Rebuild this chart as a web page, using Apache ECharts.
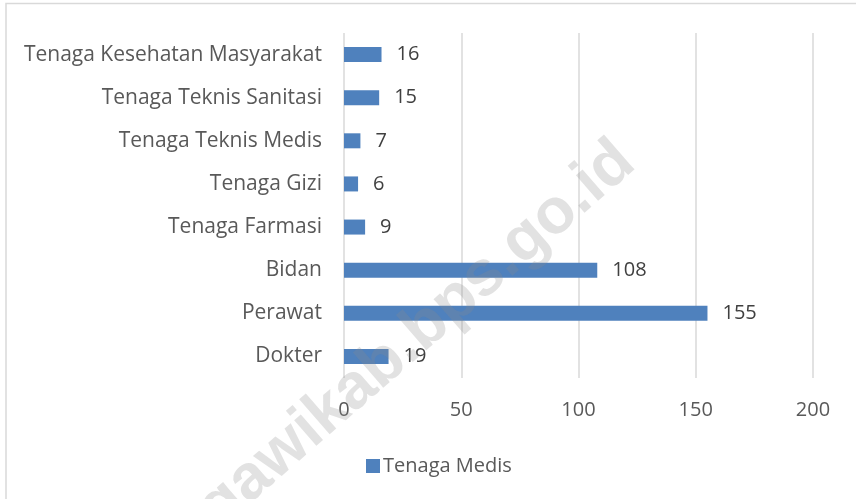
<!DOCTYPE html>
<html>
<head>
<meta charset="utf-8">
<script src="https://cdn.jsdelivr.net/npm/echarts@6/dist/echarts.min.js"></script>
<style>
  html, body { margin: 0; padding: 0; background: #fff; }
  #chart { width: 856px; height: 499px; }
</style>
</head>
<body>
<div id="chart"></div>
<script>
// categories bottom to top, as on the picture
const categories = ['Dokter', 'Perawat', 'Bidan', 'Tenaga Farmasi', 'Tenaga Gizi',
  'Tenaga Teknis Medis', 'Tenaga Teknis Sanitasi', 'Tenaga Kesehatan Masyarakat'];
const tenagaMedis = [19, 155, 108, 9, 6, 7, 15, 16];
const xTicks = [0, 50, 100, 150, 200];
const seriesName = 'Tenaga Medis';
const watermark = 'ngawikab.bps.go.id';

const font = '"Open Sans", "Noto Sans", sans-serif';
const myChart = echarts.init(document.getElementById('chart'));

myChart.setOption({
  animation: false,
  textStyle: { fontFamily: font },
  grid: { left: 344, right: 43, top: 33, bottom: 121, containLabel: false },
  legend: {
    data: [seriesName],
    left: 361,
    top: 451,
    itemWidth: 14,
    itemHeight: 14,
    itemGap: 8,
    icon: 'rect',
    textStyle: { fontSize: 20, color: '#595959', fontFamily: font, padding: [0, 0, 0, -2] }
  },
  xAxis: {
    type: 'value',
    min: xTicks[0],
    max: xTicks[xTicks.length - 1],
    interval: 50,
    axisLine: { show: false },
    axisTick: { show: false },
    splitLine: { lineStyle: { color: '#d9d9d9', width: 1.5 } },
    axisLabel: { fontSize: 20, color: '#595959', margin: 22, fontFamily: font }
  },
  yAxis: {
    type: 'category',
    data: categories,
    axisLine: { show: false },
    axisTick: { show: false },
    axisLabel: { fontSize: 21, color: '#595959', margin: 22, fontFamily: font, padding: [4, 0, 0, 0] }
  },
  series: [{
    name: seriesName,
    type: 'bar',
    data: tenagaMedis,
    barWidth: 15,
    itemStyle: { color: '#4f81bd' },
    label: {
      show: true,
      position: 'right',
      distance: 15,
      fontSize: 20,
      color: '#404040',
      fontFamily: font,
      padding: [4, 0, 0, 0]
    }
  }],
  graphic: [
    {
      type: 'rect',
      silent: true,
      shape: { x: 6, y: 3.5, width: 900, height: 600 },
      style: { fill: 'none', stroke: '#d9d9d9', lineWidth: 1.5 }
    },
    {
      type: 'text',
      silent: true,
      z: 100,
      x: 402,
      y: 348,
      rotation: 41 * Math.PI / 180,
      style: {
        text: watermark,
        font: 'bold 64px "Liberation Sans", Arial, sans-serif',
        fill: 'rgba(140,140,140,0.25)',
        align: 'center',
        verticalAlign: 'middle'
      }
    }
  ]
});
</script>
</body>
</html>
